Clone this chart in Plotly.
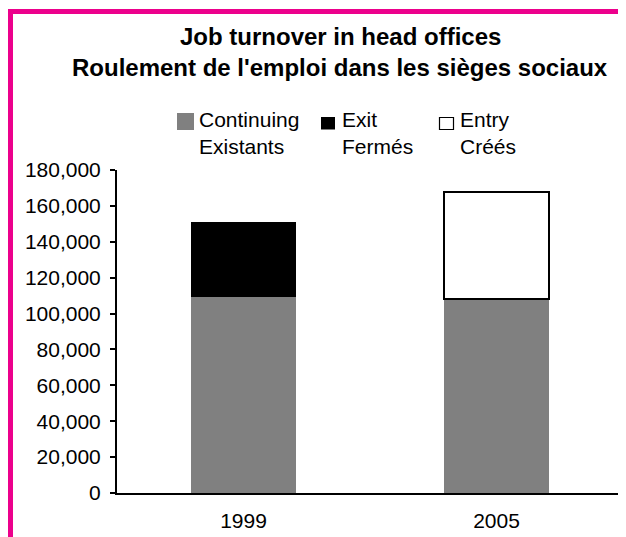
import plotly.graph_objects as go

# ---- data ----
categories = ["1999", "2005"]
continuing = [109300, 108000]
exits = [41800, None]
entries = [None, 59800]
series_names = ["Continuing<br>Existants", "Exit<br>Fermés", "Entry<br>Créés"]
title_lines = ["Job turnover in head offices", "Roulement de l'emploi dans les sièges sociaux"]

# page body has an 8px default margin; lay the figure out in page pixels
O = 8
PAGE_W, PAGE_H = 626, 537
W, H = PAGE_W - O, PAGE_H - O
PL, PR, PT, PB = 117, 623, 170, 493          # plot area in page pixels
L, T = PL - O, PT - O
R, B = W - (PR - O), H - (PB - O)
PW, PH = PR - PL, PB - PT

def px(x):
    return (x - PL) / PW

def py(y):
    return (PB - y) / PH

FONT = "Liberation Sans, Arial, sans-serif"
GRAY = "#808080"
PINK = "#EC008C"

fig = go.Figure()
fig.add_trace(go.Bar(x=categories, y=continuing, name=series_names[0],
                     marker=dict(color=GRAY, line=dict(width=0)), showlegend=False))
fig.add_trace(go.Bar(x=categories, y=exits, name=series_names[1],
                     marker=dict(color="black", line=dict(width=0)), showlegend=False))
fig.add_trace(go.Bar(x=categories, y=entries, name=series_names[2],
                     marker=dict(color="white", line=dict(color="black", width=2)), showlegend=False))

shapes = []
# pink frame
shapes.append(dict(type="line", xref="paper", yref="paper",
                   x0=px(8), x1=px(640), y0=py(11.5), y1=py(11.5),
                   line=dict(color=PINK, width=5)))
shapes.append(dict(type="line", xref="paper", yref="paper",
                   x0=px(10.5), x1=px(10.5), y0=py(9), y1=py(550),
                   line=dict(color=PINK, width=5)))
# legend swatches
sw = [((177, 194), (113, 130), GRAY, GRAY),
      ((321, 335), (117, 129.5), "black", "black"),
      ((439.5, 453.5), (117.5, 129.5), "white", "black")]
for (x0, x1), (y0, y1), fc, lc in sw:
    shapes.append(dict(type="rect", xref="paper", yref="paper",
                       x0=px(x0), x1=px(x1), y0=py(y0), y1=py(y1),
                       fillcolor=fc, line=dict(color=lc, width=1.2 if fc == "white" else 0)))

annotations = []
for txt, y in zip(title_lines, [36, 68]):
    annotations.append(dict(text="<b>%s</b>" % txt, xref="paper", yref="paper",
                            x=px(340), y=py(y), xanchor="center", yanchor="middle",
                            showarrow=False, font=dict(family=FONT, size=24, color="black")))
for name, x in zip(series_names, [197, 340, 458]):
    annotations.append(dict(text=name, xref="paper", yref="paper", align="left",
                            x=px(x), y=py(133), xanchor="left", yanchor="middle",
                            showarrow=False, font=dict(family=FONT, size=21, color="black")))

fig.update_layout(
    width=W, height=H,
    margin=dict(l=L, r=R, t=T, b=B, pad=0),
    paper_bgcolor="white", plot_bgcolor="white",
    barmode="stack", bargap=0.585,
    showlegend=False,
    font=dict(family=FONT, size=21, color="black"),
    shapes=shapes, annotations=annotations,
    xaxis=dict(type="category", categoryorder="array", categoryarray=categories,
               range=[-0.5, 1.5], showline=True, linecolor="black", linewidth=2,
               ticks="", showgrid=False, zeroline=False,
               tickfont=dict(family=FONT, size=21, color="black"), ticklabelstandoff=8),
    yaxis=dict(range=[0, 180000], dtick=20000, tickformat=",", showline=True,
               linecolor="black", linewidth=2, ticks="outside", ticklen=5,
               tickwidth=2, tickcolor="black", showgrid=False, zeroline=False,
               tickfont=dict(family=FONT, size=21, color="black"), ticklabelstandoff=5),
)

fig.write_html("out.html")
